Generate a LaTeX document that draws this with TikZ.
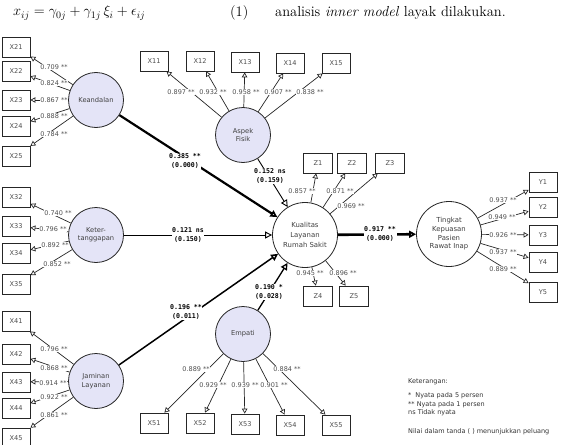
\documentclass[tikz,border=0pt]{standalone}
\usepackage{fontspec}
\newfontfamily\dv{DejaVu Sans}
\newfontfamily\dvm{DejaVu Sans Mono}
\usetikzlibrary{arrows.meta}
\definecolor{lav}{RGB}{228,228,247}
\definecolor{lbl}{RGB}{80,80,80}
\tikzset{
  lat/.style={circle, draw=black!85, line width=0.8pt, fill=lav, minimum size=55pt, inner sep=0pt,
    font=\dv\fontsize{6.7}{8.5}\selectfont, text=black!75, align=center},
  endo/.style={lat, fill=white, minimum size=65pt},
  ind/.style={draw=black!85, line width=0.8pt, minimum width=28pt, minimum height=20pt, inner sep=0pt,
    font=\dv\fontsize{6.6}{8}\selectfont, text=black!70},
  load/.style={draw=black!85, line width=0.7pt, -{Triangle[open,length=5pt,width=5.5pt]}},
  ll/.style={fill=white, inner sep=0.4pt, font=\dv\fontsize{6.5}{7}\selectfont, text=lbl},
  pl/.style={fill=white, inner sep=0.6pt, font=\dvm\bfseries\fontsize{6.6}{8.5}\selectfont, align=center},
  structarrow/.style={draw=black, -{Triangle[open,length=7pt,width=7pt]}},
  leg/.style={anchor=west, inner sep=0pt, font=\dv\fontsize{6.5}{8}\selectfont, text=black!80},
  toptext/.style={anchor=west, inner sep=0pt, font=\fontsize{14.5}{17}\selectfont}
}
\begin{document}
\begin{tikzpicture}[x=1pt,y=-1pt]
\useasboundingbox (0,0) rectangle (561,444);
% top text
\node[toptext, font=\fontsize{13.8}{16}\selectfont] (eq) at (13,13) {$x_{ij} = \gamma_{0j} + \gamma_{1j}\,\xi_i + \epsilon_{ij}$};
\node[toptext] (eqn) at (230,13) {(1)};
\node[toptext] (txt) at (275,13) {analisis \textit{inner model} layak dilakukan.};

% latent variables
\node[lat] (kea) at (96,100) {Keandalan};
\node[lat] (asp) at (243,135) {Aspek\\Fisik};
\node[lat] (ket) at (96,235) {Keter-\\tanggapan};
\node[lat] (jam) at (96,381) {Jaminan\\Layanan};
\node[lat] (emp) at (243,334) {Empati};
\node[endo, font=\dv\fontsize{6.9}{10}\selectfont] (kua) at (305,235) {Kualitas\\Layanan\\Rumah Sakit};
\node[endo, font=\dv\fontsize{6.9}{8.7}\selectfont] (tin) at (449,234) {Tingkat\\Kepuasan\\Pasien\\Rawat Inap};

% indicators
\node[ind] (x21) at (16,47) {X21};
\node[ind] (x22) at (16,71) {X22};
\node[ind] (x23) at (16,100) {X23};
\node[ind] (x24) at (16,126) {X24};
\node[ind] (x25) at (16,156) {X25};

\node[ind] (x11) at (154,61) {X11};
\node[ind] (x12) at (200,61) {X12};
\node[ind] (x13) at (245,62) {X13};
\node[ind] (x14) at (290,63) {X14};
\node[ind] (x15) at (336,63) {X15};

\node[ind] (x32) at (16,197) {X32};
\node[ind] (x33) at (16,226) {X33};
\node[ind] (x34) at (16,253) {X34};
\node[ind] (x35) at (16,284) {X35};

\node[ind] (x41) at (16,321) {X41};
\node[ind] (x42) at (16,354) {X42};
\node[ind] (x43) at (16,382) {X43};
\node[ind] (x44) at (16,408) {X44};
\node[ind] (x45) at (16,438) {X45};

\node[ind] (x51) at (154,423) {X51};
\node[ind] (x52) at (200,423) {X52};
\node[ind] (x53) at (245,424) {X53};
\node[ind] (x54) at (290,425) {X54};
\node[ind] (x55) at (336,425) {X55};

\node[ind, minimum width=29pt] (z1) at (318,163) {Z1};
\node[ind, minimum width=29pt] (z2) at (352,163) {Z2};
\node[ind, minimum width=29pt] (z3) at (390,163) {Z3};
\node[ind, minimum width=29pt] (z4) at (318,296) {Z4};
\node[ind, minimum width=29pt] (z5) at (354,296) {Z5};

\node[ind] (y1) at (543,182) {Y1};
\node[ind] (y2) at (543,207) {Y2};
\node[ind] (y3) at (543,235) {Y3};
\node[ind] (y4) at (543,262) {Y4};
\node[ind] (y5) at (543,292) {Y5};

% loadings
\foreach \s/\t in {kea/x21,kea/x22,kea/x23,kea/x24,kea/x25,
                   asp/x11,asp/x12,asp/x13,asp/x14,asp/x15,
                   ket/x32,ket/x33,ket/x34,ket/x35,
                   jam/x41,jam/x42,jam/x43,jam/x44,jam/x45,
                   emp/x51,emp/x52,emp/x53,emp/x54,emp/x55,
                   kua/z1,kua/z2,kua/z3,kua/z4,kua/z5,
                   tin/y1,tin/y2,tin/y3,tin/y4,tin/y5}
  \draw[load] (\s) -- (\t);

% structural paths
\draw[structarrow, line width=2.2pt] (kea) -- (kua);
\draw[structarrow, line width=0.9pt] (asp) -- (kua);
\draw[structarrow, line width=0.9pt] (ket) -- (kua);
\draw[structarrow, line width=1.5pt] (jam) -- (kua);
\draw[structarrow, line width=1.3pt] (emp) -- (kua);
\draw[structarrow, line width=2.6pt] (kua) -- (tin);

% loading labels
\node[ll] (l21) at (54,67) {0.709 **};
\node[ll] (l22) at (54,83) {0.824 **};
\node[ll] (l23) at (54,100) {0.867 **};
\node[ll] (l24) at (54,116) {0.888 **};
\node[ll] (l25) at (54,134) {0.784 **};

\node[ll] (l11) at (181,92) {0.897 **};
\node[ll] (l12) at (213,92) {0.932 **};
\node[ll] (l13) at (246,92) {0.958 **};
\node[ll] (l14) at (278,92) {0.907 **};
\node[ll] (l15) at (310,92) {0.838 **};

\node[ll] (l32) at (58,213) {0.740 **};
\node[ll] (l33) at (53,229) {0.796 **};
\node[ll] (l34) at (55,245) {0.892 **};
\node[ll] (l35) at (57,264) {0.852 **};

\node[ll] (l41) at (54,349) {0.796 **};
\node[ll] (l42) at (54,368) {0.868 **};
\node[ll] (l43) at (53,383) {0.914 **};
\node[ll] (l44) at (54,397) {0.922 **};
\node[ll] (l45) at (54,415) {0.861 **};

\node[ll] (l51) at (196,369) {0.889 **};
\node[ll] (l52) at (213,385) {0.929 **};
\node[ll] (l53) at (245,385) {0.939 **};
\node[ll] (l54) at (274,385) {0.901 **};
\node[ll] (l55) at (287,369) {0.884 **};

\node[ll] (lz1) at (302,191) {0.857 **};
\node[ll] (lz2) at (340,191) {0.871 **};
\node[ll] (lz3) at (351,206) {0.969 **};
\node[ll] (lz4) at (310,273) {0.945 **};
\node[ll] (lz5) at (343,273) {0.896 **};

\node[ll] (ly1) at (503,200) {0.937 **};
\node[ll] (ly2) at (502,217) {0.949 **};
\node[ll] (ly3) at (503,235) {0.926 **};
\node[ll] (ly4) at (503,252) {0.937 **};
\node[ll] (ly5) at (503,269) {0.889 **};

% path labels
\node[pl] (p1) at (185,161) {0.385 **\\(0.000)};
\node[pl] (p2) at (270,176) {0.152 ns\\(0.159)};
\node[pl] (p3) at (188,235) {0.121 ns\\(0.150)};
\node[pl] (p4) at (186,312) {0.196 **\\(0.011)};
\node[pl] (p5) at (269,292) {0.190 *\\(0.028)};
\node[pl] (p6) at (380,234) {0.917 **\\(0.000)};

% legend
\node[leg] (g0) at (408,382) {Keterangan:};
\node[leg] (g1) at (408,396) {*\hspace{4pt}Nyata pada 5 persen};
\node[leg] (g2) at (408,405) {** Nyata pada 1 persen};
\node[leg] (g3) at (408,413) {ns Tidak nyata};
\node[leg] (g4) at (408,432) {Nilai dalam tanda ( ) menunjukkan peluang};
\end{tikzpicture}
\end{document}
